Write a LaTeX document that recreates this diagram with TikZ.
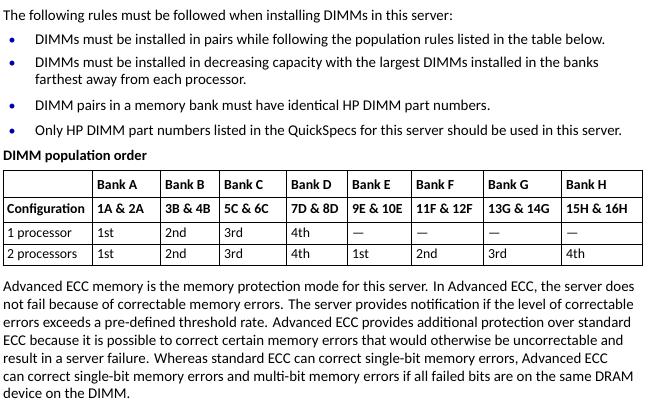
\documentclass[tikz,border=0pt]{standalone}
\usepackage{fontspec}
\setmainfont{Carlito}
\begin{document}
\begin{tikzpicture}[x=1pt,y=-1pt,
  t/.style={anchor=base west,inner sep=0pt,font=\fontsize{14.9}{16}\selectfont},
  c/.style={anchor=base west,inner sep=0pt,font=\fontsize{13.8}{16}\selectfont},
  cb/.style={c,font=\fontsize{13.8}{16}\selectfont\bfseries},
  bul/.style={anchor=base,inner sep=0pt,text=blue!70!black,font=\fontsize{14}{16}\selectfont}]
\useasboundingbox (0,0) rectangle (645,403);
\node[t] (l0) at (3,21) {The following rules must be followed when installing DIMMs in this server:};
\node[bul] (b1) at (12,45) {•};
\node[t] (l1) at (35,45) {DIMMs must be installed in pairs while following the population rules listed in the table below.};
\node[bul] (b2) at (12,68) {•};
\node[t] (l2) at (35,68) {DIMMs must be installed in decreasing capacity with the largest DIMMs installed in the banks};
\node[t] (l2b) at (35,85) {farthest away from each processor.};
\node[bul] (b3) at (12,111) {•};
\node[t] (l3) at (35,111) {DIMM pairs in a memory bank must have identical HP DIMM part numbers.};
\node[bul] (b4) at (12,136) {•};
\node[t] (l4) at (35,136) {Only HP DIMM part numbers listed in the QuickSpecs for this server should be used in this server.};
\node[t,font=\fontsize{14.5}{16}\selectfont\bfseries] (title) at (3,161) {DIMM population order};
% table grid
\draw[line width=0.8pt] (3,170) rectangle (642,265);
\foreach \y in {197,222,244} \draw[line width=0.6pt] (3,\y) -- (642,\y);
\foreach \x in {92,160,219,286,347,411,483,561} \draw[line width=0.6pt] (\x,170) -- (\x,265);
% header
\foreach \x/\s in {92/A,160/B,219/C,286/D,347/E,411/F,483/G,561/H}
  \node[cb] (h\s) at (\x+5,190) {Bank \s};
\node[cb] (cfg) at (7,214) {Configuration};
\foreach \x/\s in {92/1A \& 2A,160/3B \& 4B,219/5C \& 6C,286/7D \& 8D,347/9E \& 10E,411/11F \& 12F,483/13G \& 14G,561/15H \& 16H}
  \node[cb] at (\x+5,214) {\s};
\node[c] (p1) at (7,238) {1 processor};
\foreach \x/\s in {92/1st,160/2nd,219/3rd,286/4th,347/—,411/—,483/—,561/—}
  \node[c] at (\x+5,238) {\s};
\node[c] (p2) at (7,259) {2 processors};
\foreach \x/\s in {92/1st,160/2nd,219/3rd,286/4th,347/1st,411/2nd,483/3rd,561/4th}
  \node[c] at (\x+5,259) {\s};
% paragraph
\node[t] (q1) at (3,291) {Advanced ECC memory is the memory protection mode for this server. In Advanced ECC, the server does};
\node[t] (q2) at (3,309) {not fail because of correctable memory errors. The server provides notification if the level of correctable};
\node[t] (q3) at (3,327) {errors exceeds a pre-defined threshold rate. Advanced ECC provides additional protection over standard};
\node[t] (q4) at (3,345) {ECC because it is possible to correct certain memory errors that would otherwise be uncorrectable and};
\node[t] (q5) at (3,363) {result in a server failure. Whereas standard ECC can correct single-bit memory errors, Advanced ECC};
\node[t] (q6) at (3,381) {can correct single-bit memory errors and multi-bit memory errors if all failed bits are on the same DRAM};
\node[t] (q7) at (3,398) {device on the DIMM.};
\end{tikzpicture}
\end{document}
